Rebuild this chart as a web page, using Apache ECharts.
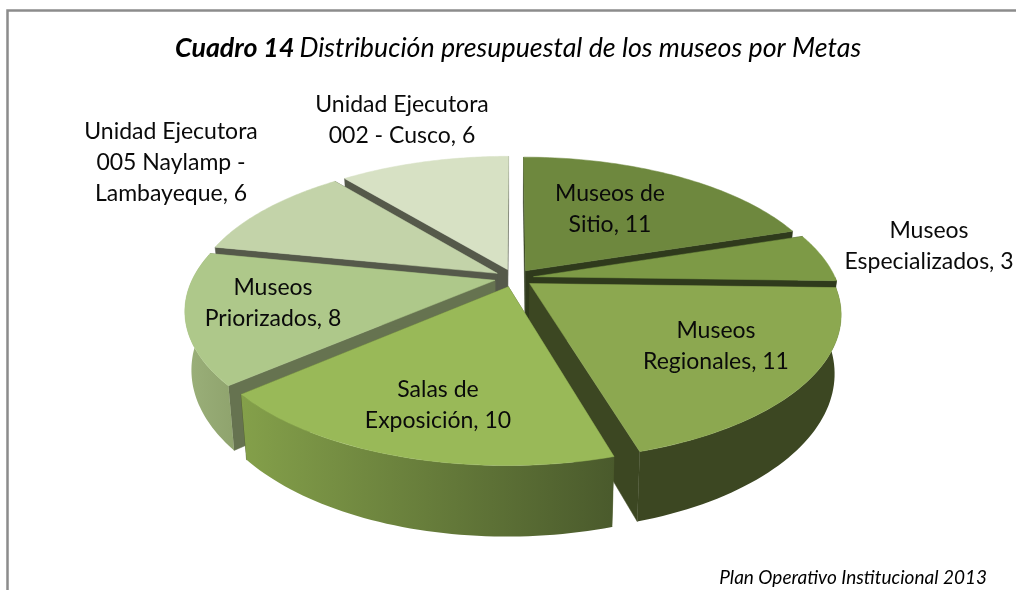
<!DOCTYPE html>
<html>
<head>
<meta charset="utf-8">
<style>html,body{margin:0;padding:0;background:#fff}#c{width:1016px;height:590px}</style>
<script src="https://cdn.jsdelivr.net/npm/echarts@6/dist/echarts.min.js"></script>
</head>
<body>
<div id="c"></div>
<script>
// ---- data ----
const categories = ['Museos de\nSitio', 'Museos\nEspecializados', 'Museos\nRegionales', 'Salas de\nExposición', 'Museos\nPriorizados', 'Unidad Ejecutora\n005 Naylamp -\nLambayeque', 'Unidad Ejecutora\n002 - Cusco'];
const values = [11, 3, 11, 10, 8, 6, 6];
const titleBold = 'Cuadro 14';
const titleRest = 'Distribución presupuestal de los museos por Metas';
const sourceNote = 'Plan Operativo Institucional 2013';

// ---- styles and layout ----
const topColors = ['#6e883e', '#7d9a46', '#8ca850', '#99b958', '#aec88a', '#c3d3a9', '#d7e1c4'];
const cutColors = ['#2f3a1c', '#2f3a1c', '#3c4722', '#4c5a2a', '#667350', '#55594a', '#55594a'];
const wallStops = [
  ['#2f3a1c', '#2f3a1c'], ['#2f3a1c', '#2f3a1c'], ['#3c4722', '#3c4722'],
  ['#84a04a', '#4a5a2c'], ['#9bb07a', '#8fa36d'], ['#8a9a70', '#8a9a70'], ['#a0ab88', '#a0ab88']
];
const labelPos = [[610, 209], [929, 246], [716, 346], [438, 405], [273, 303.5], [171, 162.5], [402, 120]];
const view = { cx: 514, cy: 278, rx: 302, ry: 139, k: 0.2, h: 56, explode: 0.065, floor: 0.98 };

const total = values.reduce((a, b) => a + b, 0);
const slices = [];
let acc = 0;
values.forEach((v, i) => {
  const a0 = acc / total * Math.PI * 2;
  acc += v;
  const a1 = acc / total * Math.PI * 2;
  slices.push({ i, a0, a1, mid: (a0 + a1) / 2 });
});
const drawOrder = slices.slice().sort((p, q) => Math.cos(q.mid) - Math.cos(p.mid)).map(s => s.i);

function project(s, r, t, down) {
  const X = view.explode * Math.sin(s.mid) + r * Math.sin(t);
  const Z = view.explode * Math.cos(s.mid) + r * Math.cos(t);
  const w = 1 + view.k * Z;
  const sx = view.rx * X / w * (down ? view.floor : 1);
  return [view.cx + sx, view.cy + (-view.ry * Z + (down ? view.h : 0)) / w];
}
function arc(s, down) {
  const n = 60, pts = [];
  for (let j = 0; j <= n; j++) pts.push(project(s, 1, s.a0 + (s.a1 - s.a0) * j / n, down));
  return pts;
}
function wallArc(s, down) {
  // only the part of the rim that faces the viewer
  const from = Math.max(s.a0, Math.PI / 2), to = Math.min(s.a1, Math.PI * 1.5 + 0.19);
  if (to <= from) return null;
  const n = 50, pts = [];
  for (let j = 0; j <= n; j++) pts.push(project(s, 1, from + (to - from) * j / n, down));
  return pts;
}
function renderSlice(params, api) {
  const i = api.value(0);
  const s = slices[i];
  const topArc = arc(s, false), botArc = arc(s, true);
  const apex = project(s, 0, 0, false), apexB = project(s, 0, 0, true);
  const cutStyle = { fill: cutColors[i], stroke: cutColors[i], lineWidth: 0.5 };
  const face = pts => ({ type: 'polygon', shape: { points: pts }, style: cutStyle });
  const children = [
    face([apex, topArc[0], botArc[0], apexB]),
    face([apex, topArc[60], botArc[60], apexB])
  ];
  const wt = wallArc(s, false), wb = wallArc(s, true);
  if (wt) {
    children.push({
      type: 'polygon',
      shape: { points: wt.concat(wb.slice().reverse()) },
      style: {
        fill: { type: 'linear', x: 0, y: 0, x2: 1, y2: 0, colorStops: [
          { offset: 0, color: wallStops[i][0] }, { offset: 1, color: wallStops[i][1] }
        ] }
      }
    });
  }
  children.push({ type: 'polygon', shape: { points: [apex].concat(topArc) }, style: { fill: topColors[i], stroke: topColors[i], lineWidth: 0.5 } });
  return { type: 'group', children };
}
function renderLabel(params, api) {
  const i = api.value(0);
  return {
    type: 'text', x: labelPos[i][0], y: labelPos[i][1],
    style: {
      text: categories[i] + ', ' + values[i],
      fontFamily: 'Lato', fontSize: 23, lineHeight: 31, fill: '#0a0a0a',
      align: 'center', verticalAlign: 'middle'
    }
  };
}

const chart = echarts.init(document.getElementById('c'), null, { renderer: 'canvas' });
chart.setOption({
  animation: false,
  backgroundColor: '#ffffff',
  title: {
    text: '{b|' + titleBold + '} {i|' + titleRest + '}',
    left: 170, top: 30,
    textStyle: {
      rich: {
        b: { fontFamily: 'Lato', fontSize: 26.8, fontWeight: 'bold', fontStyle: 'italic', color: '#000' },
        i: { fontFamily: 'Lato', fontSize: 26.8, fontWeight: 'normal', fontStyle: 'italic', color: '#000' }
      }
    }
  },
  graphic: [
    { type: 'polyline', silent: true, shape: { points: [[7.5, 590], [7.5, 10.5], [1016, 10.5]] }, style: { fill: null, stroke: '#8c8c8c', lineWidth: 2.5 } },
    { type: 'text', x: 987, y: 578, silent: true, style: { text: sourceNote, fontFamily: 'Lato', fontStyle: 'italic', fontSize: 19, fill: '#000', align: 'right', verticalAlign: 'middle' } }
  ],
  series: [
    { type: 'custom', coordinateSystem: 'none', silent: true, renderItem: renderSlice, data: drawOrder.map(i => [i, values[i]]), z: 2 },
    { type: 'custom', coordinateSystem: 'none', silent: true, renderItem: renderLabel, data: values.map((v, i) => [i, v]), z: 3 }
  ]
});
</script>
</body>
</html>
